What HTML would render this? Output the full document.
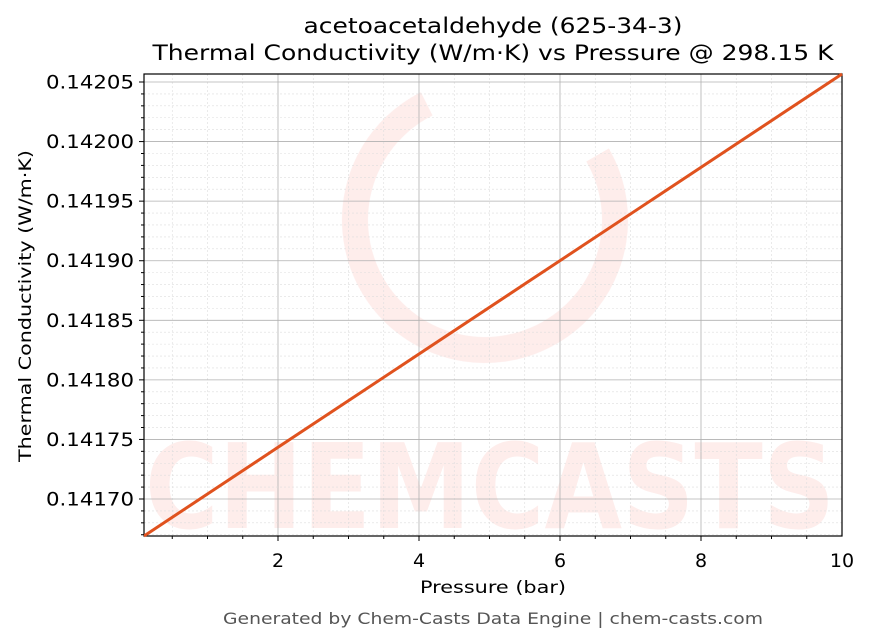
<!DOCTYPE html>
<html><head><meta charset="utf-8"><style>
body{margin:0;background:#fff;}
svg{display:block;font-family:"DejaVu Sans","Liberation Sans",sans-serif;}
</style></head><body>
<svg id="s" width="869" height="644" xmlns="http://www.w3.org/2000/svg">
<rect width="869" height="644" fill="#fff"/>
<g opacity="0.09" fill="#f03020">
<circle cx="485" cy="220" r="130" fill="none" stroke="#f03020" stroke-width="26" stroke-dasharray="620 200" transform="rotate(-30 485 220)"/>
<text x="490" y="528" font-size="118" font-weight="bold" text-anchor="middle" textLength="690" lengthAdjust="spacingAndGlyphs">CHEMCASTS</text>
</g>
<g id="grid"></g>
<rect x="144" y="74" width="698" height="462" fill="none" stroke="#000" stroke-width="1.2"/>
<line x1="144" y1="536" x2="842" y2="74" stroke="#e0521e" stroke-width="3"/>
<g id="ticks"></g>
<text x="493" y="33" font-size="21" text-anchor="middle" textLength="379" lengthAdjust="spacingAndGlyphs">acetoacetaldehyde (625-34-3)</text>
<text x="493" y="60" font-size="21" text-anchor="middle" textLength="681" lengthAdjust="spacingAndGlyphs">Thermal Conductivity (W/m·K) vs Pressure @ 298.15 K</text>
<text x="493" y="593" font-size="17" text-anchor="middle" textLength="146" lengthAdjust="spacingAndGlyphs">Pressure (bar)</text>
<text transform="translate(31,306) rotate(-90)" font-size="17" text-anchor="middle" textLength="312" lengthAdjust="spacingAndGlyphs">Thermal Conductivity (W/m·K)</text>
<text x="493" y="624" font-size="16" fill="#555" text-anchor="middle" textLength="540" lengthAdjust="spacingAndGlyphs">Generated by Chem-Casts Data Engine | chem-casts.com</text>
</svg>
<script>
const NS="http://www.w3.org/2000/svg",g=document.getElementById('grid'),t=document.getElementById('ticks');
function el(p,tag,a,txt){const e=document.createElementNS(NS,tag);for(const k in a)e.setAttribute(k,a[k]);if(txt)e.textContent=txt;p.appendChild(e);}
const X=v=>137+v*70.5, Y=v=>499-(v-0.1417)/0.00005*59.57;
for(let i=1;i<=20;i++){const v=i*0.5,x=X(v);if(x<=144||x>=842)continue;const maj=i%4==0;
 el(g,'line',{x1:x,y1:74,x2:x,y2:536,stroke:maj?'#b0b0b0':'#ddd','stroke-width':maj?0.8:0.6,'stroke-dasharray':maj?'':'2,2'});
 el(t,'line',{x1:x,y1:536,x2:x,y2:maj?541:539,stroke:'#000'});
 if(maj)el(t,'text',{x:x,y:567,'font-size':19,'text-anchor':'middle'},String(v));}
el(t,'text',{x:842,y:567,'font-size':19,'text-anchor':'middle'},'10');
for(let k=-4;k<=40;k++){const v=0.1417+k*0.00001,y=Y(v);if(y<74||y>536)continue;const maj=k%5==0;
 el(g,'line',{x1:144,y1:y,x2:842,y2:y,stroke:maj?'#b0b0b0':'#ddd','stroke-width':maj?0.8:0.6,'stroke-dasharray':maj?'':'2,2'});
 el(t,'line',{x1:144,y1:y,x2:maj?139:141,y2:y,stroke:'#000'});
 if(maj)el(t,'text',{x:134,y:y+6.5,'font-size':19,'text-anchor':'end',textLength:88,lengthAdjust:'spacingAndGlyphs'},v.toFixed(5));}
</script>
</body></html>
